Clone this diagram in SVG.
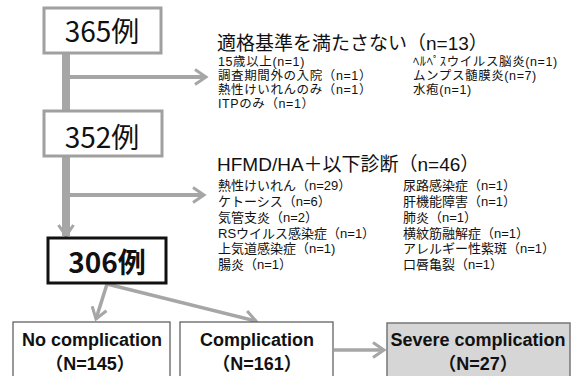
<svg xmlns="http://www.w3.org/2000/svg" width="577" height="376" viewBox="0 0 577 376">
<defs>
<style>
.jp{font-family:"Noto Sans CJK JP","Liberation Sans",sans-serif;fill:#111}
.lj{font-family:"Liberation Sans","Noto Sans CJK JP",sans-serif;fill:#111}
.big{font-size:28px}
.bold{font-weight:bold}
.head{font-size:19px}
.item{font-size:12.5px;letter-spacing:0.6px}
.item2{font-size:13px}
.en{font-family:"Liberation Sans","Noto Sans CJK JP",sans-serif;font-weight:bold;font-size:18px;fill:#111}
.conn{fill:none;stroke:#a6a6a6;stroke-linecap:butt}
.grayBox{fill:#fff;stroke:#a0a0a0;stroke-width:3}
</style>
<marker id="chev" markerUnits="userSpaceOnUse" markerWidth="24" markerHeight="24" refX="12" refY="8" orient="auto" viewBox="0 0 24 16">
<path d="M1,0.5 L12,8 L1,15.5" fill="none" stroke="#a6a6a6" stroke-width="3"/>
</marker>
</defs>
<rect width="577" height="376" fill="#fff"/>
<g id="connectors">
<path class="conn" d="M66,53 V111" stroke-width="8"/>
<path class="conn" d="M66,156 V236" stroke-width="8" marker-end="url(#chev)"/>
<path class="conn" d="M70,77 H206" stroke-width="4" marker-end="url(#chev)"/>
<path class="conn" d="M70,195 H204" stroke-width="4" marker-end="url(#chev)"/>
<path class="conn" d="M107,284 L96,319" stroke-width="3.5" marker-end="url(#chev)"/>
<path class="conn" d="M107,284 L256,321" stroke-width="3.5" marker-end="url(#chev)"/>
<path class="conn" d="M334,350 H384" stroke-width="3.5" marker-end="url(#chev)"/>
</g>
<g id="n365">
<rect class="grayBox" x="44" y="8" width="117" height="45"/>
<text class="jp big" x="102" y="42" text-anchor="middle">365例</text>
</g>
<g id="n352">
<rect class="grayBox" x="44" y="111" width="118" height="45"/>
<text class="jp big" x="102" y="148" text-anchor="middle">352例</text>
</g>
<g id="n306">
<rect x="48" y="238" width="118" height="45" fill="#fff" stroke="#111" stroke-width="3"/>
<text class="jp big bold" x="107" y="273" text-anchor="middle">306例</text>
</g>
<g id="excluded">
<text class="lj head" x="217" y="50">適格基準を満たさない（n=13）</text>
<text class="lj item" x="218" y="65.5">15歳以上(n=1)</text>
<text class="lj item" x="218" y="79.5">調査期間外の入院（n=1）</text>
<text class="lj item" x="218" y="93.5">熱性けいれんのみ（n=1）</text>
<text class="lj item" x="218" y="107.5">ITPのみ（n=1）</text>
<text class="lj item" x="413" y="65.5">ﾍﾙﾍﾟｽウイルス脳炎(n=1)</text>
<text class="lj item" x="413" y="79.5">ムンプス髄膜炎(n=7)</text>
<text class="lj item" x="413" y="93.5">水疱(n=1)</text>
</g>
<g id="hfmd">
<text class="lj head" x="217" y="171">HFMD/HA＋以下診断（n=46）</text>
<text class="lj item2" x="218" y="190">熱性けいれん（n=29）</text>
<text class="lj item2" x="218" y="206">ケトーシス（n=6）</text>
<text class="lj item2" x="218" y="222">気管支炎（n=2）</text>
<text class="lj item2" x="218" y="237.5">RSウイルス感染症（n=1）</text>
<text class="lj item2" x="218" y="253">上気道感染症（n=1)</text>
<text class="lj item2" x="218" y="268.5">腸炎（n=1）</text>
<text class="lj item2" x="403" y="190">尿路感染症（n=1）</text>
<text class="lj item2" x="403" y="206">肝機能障害（n=1）</text>
<text class="lj item2" x="403" y="222">肺炎（n=1）</text>
<text class="lj item2" x="403" y="237.5">横紋筋融解症（n=1）</text>
<text class="lj item2" x="403" y="253">アレルギー性紫斑（n=1）</text>
<text class="lj item2" x="403" y="268.5">口唇亀裂（n=1）</text>
</g>
<g id="nocomp">
<rect x="13" y="322" width="157" height="60" fill="#fff" stroke="#555" stroke-width="1.2"/>
<text class="en" x="92" y="346" text-anchor="middle">No complication</text>
<text class="en" x="90" y="370" text-anchor="middle">（N=145）</text>
</g>
<g id="comp">
<rect x="180" y="322" width="153" height="60" fill="#fff" stroke="#555" stroke-width="1.2"/>
<text class="en" x="257" y="346" text-anchor="middle">Complication</text>
<text class="en" x="257" y="370" text-anchor="middle">（N=161）</text>
</g>
<g id="severe">
<rect x="387" y="323" width="183" height="60" fill="#d6d6d6" stroke="#777" stroke-width="1.5"/>
<text class="en" x="478" y="346" text-anchor="middle">Severe complication</text>
<text class="en" x="478" y="370" text-anchor="middle">（N=27）</text>
</g>
</svg>
